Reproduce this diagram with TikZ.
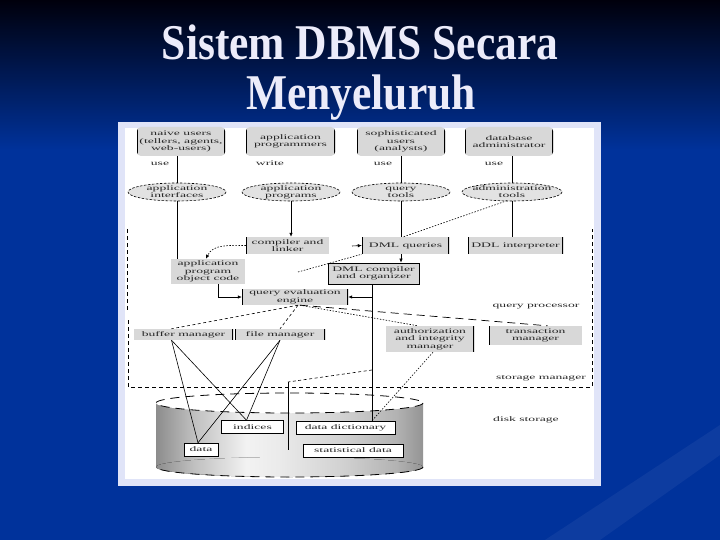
\documentclass[tikz,border=0pt]{standalone}
\usepackage{fontspec}
\setmainfont{Liberation Serif}
\newfontfamily\dfont[FakeStretch=1.95]{Liberation Serif}
\newfontfamily\tfont[FakeStretch=0.87]{Liberation Serif}
\usetikzlibrary{arrows.meta}
\definecolor{bgtop}{RGB}{0,0,12}
\definecolor{bgblue}{RGB}{0,50,155}
\definecolor{panelrim}{RGB}{224,228,248}
\definecolor{boxgray}{RGB}{216,216,216}
\definecolor{ellgray}{RGB}{226,226,226}
\definecolor{titlecol}{RGB}{236,236,250}
\pgfdeclarehorizontalshading{cylshade}{100bp}{color(0bp)=(black!45); color(25bp)=(black!45); color(32bp)=(black!25); color(42bp)=(black!5); color(48bp)=(black!8); color(60bp)=(black!18); color(70bp)=(black!30); color(75bp)=(black!42); color(100bp)=(black!42)}
\tikzset{
  every node/.style={font=\dfont\fontsize{7}{7.5}\selectfont, inner sep=0pt, align=center, text=black!85},
  sz/.style n args={2}{minimum width=#1pt, minimum height=#2pt},
  topbox/.style={rectangle, rounded corners=4pt, fill=boxgray,
    path picture={\draw[line width=2pt] (path picture bounding box.north west) -- (path picture bounding box.south west)
      (path picture bounding box.north east) -- (path picture bounding box.south east);}},
  gbox/.style={rectangle, fill=boxgray},
  lb/.style={path picture={\draw[line width=1.8pt] (path picture bounding box.north west) -- (path picture bounding box.south west);}},
  rb/.style={path picture={\draw[line width=1.8pt] (path picture bounding box.north east) -- (path picture bounding box.south east);}},
  lrb/.style={path picture={\draw[line width=1.8pt] (path picture bounding box.north west) -- (path picture bounding box.south west)
      (path picture bounding box.north east) -- (path picture bounding box.south east);}},
  fullb/.style={draw=black, line width=0.8pt},
  dbox/.style={rectangle, fill=white, draw=black, line width=0.5pt},
  ell/.style={rectangle, minimum width=98pt, minimum height=17pt, font=\dfont\fontsize{7}{7.2}\selectfont},
  ellshape/.style={fill=ellgray, draw=black, line width=0.6pt, dash pattern=on 2.5pt off 1.5pt},
  conn/.style={draw=black, line width=0.6pt},
  arr/.style={-{Latex[length=4pt,width=3.5pt]}},
  dashq/.style={draw=black, line width=0.6pt, dash pattern=on 3pt off 2.5pt},
  dotq/.style={draw=black, line width=0.6pt, dash pattern=on 1.5pt off 1.5pt},
  ldash/.style={draw=black, line width=0.7pt, dash pattern=on 8pt off 5pt},
  fr/.style={draw=black, line width=0.8pt, dash pattern=on 4pt off 3pt},
  cyldash/.style={draw=black, line width=0.8pt, dash pattern=on 9pt off 6pt},
  ttl/.style={font=\tfont\bfseries\fontsize{50}{50}\selectfont, anchor=base, text=titlecol}
}
\begin{document}
\begin{tikzpicture}[x=1pt,y=-1pt]
\useasboundingbox (0,0) rectangle (720,540);
% background
\fill[bgblue] (0,0) rectangle (720,540);
\shade[top color=bgtop, bottom color=bgblue] (0,0) rectangle (720,150);
\fill[white, opacity=0.05] (600,540) -- (720,455) -- (720,425) -- (545,540) -- cycle;
% title
\node[ttl] (t1) at (360,60) {Sistem DBMS Secara};
\node[ttl] (t2) at (361,110) {Menyeluruh};
% panel
\fill[panelrim] (118,122) rectangle (601,486);
\fill[white] (125,128) rectangle (594,479);
% frames
\draw[fr] (127,229) -- (127,312);
\draw[fr] (128,320) -- (128,387) -- (592,387) -- (592,229);
% disk cylinder
\fill[shading=cylshade] (156,403) rectangle (423,467);
\fill[shading=cylshade] (289.5,467) ellipse [x radius=133.5, y radius=10];
\fill[white] (289.5,403) ellipse [x radius=133.5, y radius=10];
\draw[cyldash] (289.5,403) ellipse [x radius=133.5, y radius=10];
\begin{scope}
  \clip (150,467) rectangle (430,482);
  \draw[cyldash] (289.5,467) ellipse [x radius=133.5, y radius=10];
\end{scope}
% top row
\node[topbox, sz={88}{29}] (nu) at (181,141.5) {naive users\\(tellers, agents,\\web-users)};
\node[topbox, sz={89}{29}] (ap) at (290.5,141.5) {application\\programmers};
\node[topbox, sz={88}{29}] (su) at (401,141.5) {sophisticated\\users\\(analysts)};
\node[topbox, sz={88}{29}] (dba) at (509,141.5) {database\\administrator};
\node (l1) at (160,163.5) {use};
\node (l2) at (270,163.5) {write};
\node (l3) at (383,163.5) {use};
\node (l4) at (494,163.5) {use};
% ellipses
\path[ellshape] (177,192) ellipse [x radius=49, y radius=9];
\path[ellshape] (291,192) ellipse [x radius=49, y radius=9];
\path[ellshape] (401,192) ellipse [x radius=49, y radius=9];
\path[ellshape] (512,192) ellipse [x radius=50, y radius=9];
\node[ell] (ai) at (177,192) {application\\interfaces};
\node[ell] (apg) at (291,192) {application\\programs};
\node[ell] (qt) at (401,192) {query\\tools};
\node[ell] (at) at (512,192) {administration\\tools};
% query processor boxes
\node[gbox, lb, sz={83}{17}] (cl) at (287.5,245.5) {compiler and\\linker};
\node[gbox, sz={74}{25}] (apoc) at (208,271.5) {application\\program\\object code};
\node[gbox, lrb, sz={87}{17}] (dmlq) at (405.5,245.5) {DML queries};
\node[gbox, lrb, sz={95}{17}] (ddl) at (515.5,245.5) {DDL interpreter};
\node[gbox, fullb, sz={91}{21}] (dmlc) at (373.5,273.5) {DML compiler\\and organizer};
\node[gbox, lrb, sz={106}{16}] (qee) at (295,297) {query evaluation\\engine};
\node (qp) at (536,307) {query processor};
% storage manager boxes
\node[gbox, rb, sz={99}{11}] (bm) at (183.5,334.5) {buffer manager};
\node[gbox, lrb, sz={90}{11}] (fm) at (280,334.5) {file manager};
\node[gbox, rb, sz={88}{26}] (aim) at (430,339) {authorization\\and integrity\\manager};
\node[gbox, lb, sz={93}{19}] (tm) at (535.5,335.5) {transaction\\manager};
\node (sm) at (541,378) {storage manager};
% disk storage boxes
\node[dbox, sz={62}{13}] (ind) at (252.5,427) {indices};
\node[dbox, sz={99}{13}] (dd) at (345.5,427.5) {data dictionary};
\node[dbox, sz={34}{13}] (dat) at (201,449.5) {data};
\node[dbox, sz={100}{13}] (sd) at (353,450.5) {statistical data};
\node (ds) at (526,420) {disk storage};
% connectors: users to tools
\draw[conn] (ai.north |- nu.south) -- (ai.north);
\draw[conn] (qt.north |- su.south) -- (qt.north);
\draw[conn] (at.north |- dba.south) -- (at.north);
\draw[conn, arr] (apg.south) -- (apg.south |- cl.north);
\draw[conn] (ai.south) -- (ai.south |- apoc.north);
\draw[dotq, arr] (cl.west) to[out=180, in=65] ([xshift=-2pt]apoc.north);
\draw[conn] (qt.south) -- (qt.south |- dmlq.north);
\draw[conn] (at.south) -- (at.south |- ddl.north);
\draw[dotq] ([xshift=-5pt]at.south) -- ([xshift=-2pt]dmlq.north);
\coordinate (emb) at (298,272);
\coordinate (dmin) at (352,246);
\draw[dotq] (emb) -- (dmlq.south west);
\draw[conn, arr] (dmin) -- (dmlq.west);
\draw[conn, arr] (dmlq.south -| qt.south) -- (dmlc.north -| qt.south);
\draw[conn] ([xshift=-1.5pt]dmlc.south) -- ([xshift=-1.5pt]dmlc.south |- dd.north);
\draw[conn, arr] ([xshift=-1.5pt]dmlc.south |- qee.east) -- (qee.east);
\draw[conn, arr] ([xshift=10pt]apoc.south) |- (qee.west);
% engine to storage manager
\draw[dashq] ([xshift=3pt]qee.south) -- ([xshift=-12pt]bm.north);
\draw[dashq] ([xshift=3pt]qee.south) -- (fm.north);
\draw[dotq] ([xshift=5pt]qee.south) -- ([xshift=-12pt]aim.north);
\draw[ldash] ([xshift=5pt]qee.south) -- ([xshift=12pt]tm.north);
% storage manager to disk
\draw[conn] ([xshift=-12pt]bm.south) -- ([xshift=-3pt]dat.north);
\draw[conn] ([xshift=-12pt]bm.south) -- ([xshift=-6pt]ind.north);
\draw[conn] (fm.south) -- ([xshift=-3pt]dat.north);
\draw[conn] (fm.south) -- ([xshift=-6pt]ind.north);
\draw[dotq] ([xshift=3pt]aim.south) -- ([xshift=26.5pt]dd.north);
\coordinate (s0) at (372,370);
\coordinate (s1) at (288,382);
\coordinate (s2) at (288,450);
\draw[dashq] (s0) -- (s1);
\draw[conn] (s1) -- (s2);
\end{tikzpicture}
\end{document}
